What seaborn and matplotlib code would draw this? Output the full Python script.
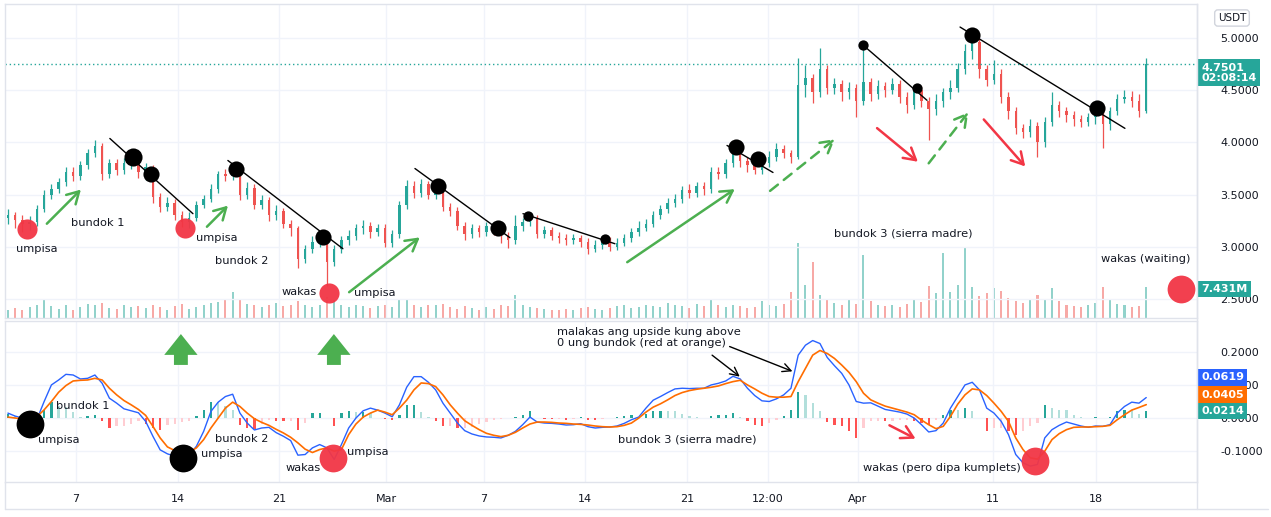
import numpy as np
import pandas as pd
import matplotlib
matplotlib.use("Agg")
import matplotlib.pyplot as plt
import matplotlib.transforms as mtransforms
from matplotlib.lines import Line2D
import seaborn as sns

# 12h candles (price in USDT)
close = [3.30, 3.26, 3.22, 3.24, 3.36, 3.50, 3.55, 3.62, 3.72, 3.68,
         3.78, 3.90, 3.97, 3.70, 3.80, 3.74, 3.80, 3.84, 3.72, 3.76,
         3.48, 3.38, 3.42, 3.30, 3.24, 3.28, 3.40, 3.46, 3.55, 3.70,
         3.68, 3.74, 3.50, 3.56, 3.40, 3.45, 3.30, 3.34, 3.22, 3.18,
         2.88, 2.98, 3.05, 3.10, 2.85, 2.98, 3.06, 3.10, 3.18, 3.20,
         3.14, 3.18, 3.04, 3.12, 3.40, 3.58, 3.52, 3.60, 3.50, 3.56,
         3.38, 3.34, 3.20, 3.12, 3.18, 3.14, 3.20, 3.16, 3.10, 3.06,
         3.20, 3.24, 3.28, 3.12, 3.16, 3.10, 3.08, 3.06, 3.08, 3.05,
         2.98, 3.02, 3.06, 3.00, 3.04, 3.08, 3.14, 3.18, 3.22, 3.30,
         3.36, 3.42, 3.46, 3.54, 3.52, 3.58, 3.55, 3.72, 3.70, 3.80,
         3.92, 3.82, 3.78, 3.74, 3.80, 3.86, 3.94, 3.90, 3.86, 4.55,
         4.62, 4.48, 4.70, 4.52, 4.56, 4.48, 4.52, 4.40, 4.58, 4.46,
         4.54, 4.50, 4.56, 4.44, 4.36, 4.50, 4.40, 4.32, 4.40, 4.48,
         4.52, 4.70, 4.88, 4.96, 4.70, 4.60, 4.66, 4.44, 4.30, 4.14,
         4.10, 4.16, 4.00, 4.20, 4.36, 4.30, 4.26, 4.22, 4.20, 4.24,
         4.32, 4.18, 4.30, 4.42, 4.44, 4.40, 4.30, 4.7501]
high = [3.36, 3.33, 3.30, 3.29, 3.40, 3.54, 3.60, 3.66, 3.76, 3.76,
        3.82, 3.94, 4.02, 3.99, 3.84, 3.84, 3.85, 3.88, 3.88, 3.80,
        3.78, 3.52, 3.48, 3.46, 3.34, 3.33, 3.44, 3.50, 3.60, 3.73,
        3.75, 3.80, 3.77, 3.62, 3.60, 3.50, 3.48, 3.40, 3.37, 3.26,
        3.20, 3.02, 3.10, 3.14, 3.14, 3.02, 3.10, 3.16, 3.22, 3.26,
        3.24, 3.22, 3.22, 3.16, 3.44, 3.64, 3.63, 3.65, 3.63, 3.62,
        3.58, 3.42, 3.38, 3.24, 3.22, 3.21, 3.24, 3.23, 3.19, 3.14,
        3.30, 3.28, 3.32, 3.30, 3.20, 3.19, 3.14, 3.12, 3.12, 3.11,
        3.08, 3.06, 3.10, 3.09, 3.08, 3.12, 3.18, 3.25, 3.27, 3.34,
        3.40, 3.47, 3.51, 3.58, 3.60, 3.62, 3.62, 3.76, 3.76, 3.84,
        3.96, 3.95, 3.86, 3.82, 3.84, 3.92, 3.99, 3.98, 3.93, 4.81,
        4.74, 4.66, 4.91, 4.74, 4.62, 4.60, 4.58, 4.56, 4.93, 4.62,
        4.60, 4.58, 4.62, 4.60, 4.48, 4.55, 4.54, 4.44, 4.46, 4.52,
        4.60, 4.76, 4.94, 5.05, 5.00, 4.74, 4.79, 4.70, 4.48, 4.34,
        4.18, 4.22, 4.20, 4.24, 4.48, 4.40, 4.34, 4.30, 4.26, 4.28,
        4.36, 4.36, 4.34, 4.46, 4.50, 4.49, 4.46, 4.81]
low = [3.22, 3.18, 3.14, 3.16, 3.20, 3.33, 3.46, 3.52, 3.58, 3.63,
       3.64, 3.75, 3.86, 3.64, 3.66, 3.69, 3.70, 3.75, 3.66, 3.64,
       3.42, 3.33, 3.34, 3.26, 3.19, 3.18, 3.25, 3.37, 3.43, 3.52,
       3.63, 3.64, 3.45, 3.46, 3.36, 3.36, 3.25, 3.26, 3.18, 3.10,
       2.80, 2.84, 2.94, 3.00, 2.62, 2.82, 2.94, 3.02, 3.06, 3.12,
       3.08, 3.10, 3.00, 3.00, 3.08, 3.36, 3.47, 3.48, 3.46, 3.46,
       3.34, 3.29, 3.16, 3.06, 3.08, 3.09, 3.10, 3.11, 3.04, 2.99,
       3.03, 3.15, 3.20, 3.08, 3.08, 3.06, 3.04, 3.02, 3.03, 3.00,
       2.93, 2.95, 2.98, 2.96, 2.97, 3.01, 3.05, 3.10, 3.15, 3.19,
       3.27, 3.32, 3.38, 3.42, 3.47, 3.48, 3.50, 3.52, 3.65, 3.66,
       3.76, 3.76, 3.72, 3.70, 3.70, 3.76, 3.82, 3.85, 3.80, 3.84,
       4.44, 4.38, 4.44, 4.46, 4.46, 4.40, 4.42, 4.24, 4.36, 4.40,
       4.42, 4.44, 4.46, 4.38, 4.28, 4.32, 4.34, 4.02, 4.26, 4.34,
       4.42, 4.48, 4.66, 4.80, 4.62, 4.54, 4.56, 4.38, 4.22, 4.08,
       4.04, 4.05, 3.86, 3.96, 4.16, 4.24, 4.20, 4.16, 4.15, 4.16,
       4.18, 3.95, 4.12, 4.26, 4.38, 4.34, 4.24, 4.28]
first_open = 3.28
# volume in millions
volume = [2.0, 2.4, 1.8, 2.6, 3.0, 4.3, 2.8, 2.2, 3.2, 2.0,
          2.6, 3.4, 3.0, 3.6, 2.4, 2.2, 3.0, 2.6, 2.8, 2.4,
          3.2, 2.6, 2.0, 2.8, 3.4, 2.2, 2.6, 3.0, 3.6, 3.8,
          4.2, 6.2, 4.6, 3.4, 3.0, 2.6, 3.2, 3.6, 2.8, 3.0,
          4.0, 3.2, 2.6, 3.0, 5.0, 4.4, 3.2, 2.6, 3.0, 2.8,
          2.4, 2.8, 3.0, 2.6, 4.6, 4.2, 3.0, 2.6, 3.2, 3.0,
          3.4, 2.6, 2.2, 2.8, 2.4, 2.0, 2.6, 2.2, 3.0, 2.8,
          5.5, 3.0, 2.6, 2.4, 2.2, 2.0, 1.8, 2.2, 2.0, 2.4,
          2.6, 2.2, 2.0, 2.4, 2.8, 3.0, 2.4, 2.6, 3.2, 2.8,
          2.6, 3.6, 3.0, 2.8, 2.4, 3.4, 2.8, 4.3, 3.0, 2.6,
          3.2, 2.8, 2.4, 2.6, 4.0, 3.0, 2.8, 3.4, 6.2, 18.0,
          8.0, 13.4, 5.6, 4.4, 3.6, 3.0, 4.2, 3.4, 15.0, 4.0,
          3.0, 2.8, 3.2, 2.6, 3.4, 4.6, 3.8, 7.6, 6.0, 15.6,
          6.2, 8.0, 17.0, 7.4, 5.2, 6.0, 7.2, 6.4, 4.8, 4.0,
          3.6, 4.2, 5.6, 4.4, 7.2, 4.0, 3.2, 2.8, 2.6, 3.0,
          3.6, 7.4, 4.2, 3.4, 3.0, 2.6, 2.8, 7.431]
macd = [0.015, 0.006, 0.0, -0.004, -0.004, 0.05, 0.1, 0.115, 0.132, 0.13,
        0.118, 0.12, 0.13, 0.105, 0.06, 0.045, 0.028, 0.022, 0.016, -0.01,
        -0.055, -0.096, -0.108, -0.115, -0.117, -0.112, -0.085, -0.04, 0.02, 0.048,
        0.065, 0.072, 0.015, -0.015, -0.036, -0.03, -0.028, -0.044, -0.055, -0.068,
        -0.112, -0.11, -0.09, -0.08, -0.09, -0.125, -0.08, -0.03, 0.0, 0.022,
        0.03, 0.024, 0.015, 0.004, 0.04, 0.093, 0.125, 0.125, 0.108, 0.085,
        0.045, 0.015, -0.015, -0.038, -0.048, -0.054, -0.057, -0.058, -0.06, -0.052,
        -0.04, -0.02, 0.003, -0.012, -0.015, -0.016, -0.018, -0.021, -0.02, -0.017,
        -0.026, -0.03, -0.028, -0.027, -0.024, -0.016, -0.005, 0.003, 0.03, 0.054,
        0.065, 0.077, 0.088, 0.09, 0.089, 0.09, 0.09, 0.1, 0.105, 0.112,
        0.126, 0.118, 0.09, 0.068, 0.052, 0.05, 0.058, 0.07, 0.09, 0.19,
        0.22, 0.234, 0.225, 0.183, 0.158, 0.135, 0.1, 0.05, 0.045, 0.046,
        0.036, 0.026, 0.022, 0.018, 0.012, 0.0, -0.02, -0.042, -0.038, -0.015,
        0.03, 0.065, 0.1, 0.108, 0.085, 0.03, 0.015, -0.01, -0.05, -0.11,
        -0.135, -0.145, -0.14, -0.06, -0.035, -0.022, -0.012, -0.018, -0.024, -0.028,
        -0.024, -0.025, -0.02, 0.015, 0.035, 0.048, 0.045, 0.0619]
signal = [0.003, 0.0, -0.002, -0.003, 0.004, 0.025, 0.05, 0.078, 0.098, 0.112,
          0.114, 0.115, 0.12, 0.115, 0.09, 0.07, 0.053, 0.04, 0.026, 0.008,
          -0.025, -0.06, -0.087, -0.098, -0.105, -0.103, -0.09, -0.065, -0.03, 0.0,
          0.03, 0.048, 0.035, 0.015, -0.002, -0.013, -0.022, -0.034, -0.045, -0.058,
          -0.075, -0.094, -0.104, -0.095, -0.09, -0.1, -0.095, -0.05, -0.018, 0.003,
          0.015, 0.024, 0.018, 0.01, 0.03, 0.054, 0.085, 0.106, 0.104, 0.095,
          0.07, 0.04, 0.015, -0.008, -0.022, -0.035, -0.046, -0.052, -0.056, -0.052,
          -0.043, -0.03, -0.018, -0.012, -0.012, -0.013, -0.015, -0.016, -0.018, -0.019,
          -0.021, -0.024, -0.026, -0.027, -0.026, -0.022, -0.015, 0.0, 0.018, 0.033,
          0.043, 0.055, 0.068, 0.077, 0.083, 0.087, 0.09, 0.093, 0.097, 0.104,
          0.11, 0.114, 0.1, 0.088, 0.075, 0.065, 0.063, 0.063, 0.065, 0.11,
          0.15, 0.19, 0.204, 0.195, 0.18, 0.16, 0.138, 0.11, 0.075, 0.055,
          0.045, 0.036, 0.03, 0.024, 0.018, 0.01, -0.006, -0.02, -0.032, -0.025,
          0.005, 0.042, 0.07, 0.088, 0.085, 0.068, 0.045, 0.02, -0.01, -0.06,
          -0.095, -0.12, -0.124, -0.1, -0.065, -0.047, -0.035, -0.028, -0.027, -0.027,
          -0.026, -0.025, -0.022, -0.005, 0.01, 0.024, 0.032, 0.0405]

tick_days = [4.69, 11.72, 18.69, 26.07, 32.83, 39.79, 46.83, 52.41, 58.62, 67.93, 75.03]
tick_labels = ["7", "14", "21", "Mar", "7", "14", "21", "12:00", "Apr", "11", "18"]
price_ticks = [2.5, 3.0, 3.5, 4.0, 4.5, 5.0]
macd_ticks = [0.2, 0.1, 0.0, -0.1]

# drawings on the price pane: (day, price)
red_dots = [(1.31, 3.173, 210), (12.2, 3.183, 210), (22.14, 2.558, 210), (80.9, 2.596, 400)]
black_dots = [(8.62, 3.856, 170), (9.86, 3.702, 135), (15.72, 3.75, 135), (21.72, 3.096, 135),
              (29.66, 3.587, 135), (33.79, 3.183, 135), (35.86, 3.298, 55), (41.17, 3.077, 55),
              (50.21, 3.952, 135), (51.72, 3.837, 135), (58.97, 4.933, 55), (62.69, 4.519, 55),
              (66.48, 5.029, 135), (75.1, 4.327, 135)]
trend_lines = [((7.03, 4.038), (12.76, 3.317)), ((15.17, 3.827), (23.1, 2.981)),
               ((28.07, 3.75), (34.62, 3.087)), ((35.52, 3.317), (41.86, 3.029)),
               ((49.59, 3.971), (52.76, 3.712)), ((58.97, 4.933), (63.38, 4.404)),
               ((65.66, 5.106), (77.03, 4.135))]
green_arrows = [((2.55, 3.202), (5.17, 3.567)), ((13.59, 3.173), (15.31, 3.413)),
                ((23.38, 2.548), (28.55, 3.106)), ((42.55, 2.837), (50.28, 3.567))]
green_dashed = [((52.41, 3.519), (57.17, 4.048)), ((63.38, 3.779), (66.34, 4.308))]
red_arrows = [((59.79, 4.154), (62.9, 3.798)), ((67.17, 4.24), (70.28, 3.75))]
price_notes = [(2.0, 2.981, "umpisa"), (6.21, 3.231, "bundok 1"), (14.41, 3.087, "umpisa"),
               (16.14, 2.865, "bundok 2"), (20.07, 2.567, "wakas"), (25.31, 2.558, "umpisa"),
               (61.72, 3.125, "bundok 3 (sierra madre)"), (78.48, 2.885, "wakas (waiting)")]
# drawings on the MACD pane: (day, value)
macd_black_dots = [(1.52, -0.018), (12.07, -0.12)]
macd_red_dots = [(22.41, -0.12), (70.83, -0.129)]
up_arrows = [11.93, 22.48]
macd_notes = [(5.17, 0.036, "bundok 1"), (3.52, -0.066, "umpisa"), (14.76, -0.108, "umpisa"),
              (16.14, -0.063, "bundok 2"), (20.34, -0.15, "wakas"), (24.83, -0.102, "umpisa"),
              (46.83, -0.066, "bundok 3 (sierra madre)"), (64.41, -0.15, "wakas (pero dipa kumplets)")]

UP, DOWN = "#26a69a", "#ef5350"
GRID = "#f0f3fa"
EDGE = "#e0e3eb"
TXT = "#131722"

sns.set_theme(style="white")
plt.rcParams["font.family"] = ["DejaVu Sans"]

days = np.arange(len(close)) * 0.5
opens = [first_open] + close[:-1]
df = pd.DataFrame({"day": days, "open": opens, "close": close, "high": high, "low": low,
                   "volume": volume, "macd": macd, "signal": signal})
df["hist"] = df["macd"] - df["signal"]
df["up"] = df["close"] >= df["open"]

fig = plt.figure(figsize=(12.71, 5.17), dpi=100)
W, H = 1271, 517
ax = fig.add_axes([5 / W, 1 - 318 / H, 1192 / W, 314 / H])
axm = fig.add_axes([5 / W, 1 - 482 / H, 1192 / W, 161 / H], sharex=ax)
axv = ax.twinx()

# volume
vcol = [(0.15, 0.65, 0.6, 0.5) if u else (0.94, 0.33, 0.31, 0.5) for u in df["up"]]
axv.bar(df["day"], df["volume"], width=0.14, color=vcol, linewidth=0)
axv.set_ylim(0, 75)
axv.set_yticks([])
for s in axv.spines.values():
    s.set_visible(False)
ax.set_zorder(axv.get_zorder() + 1)
ax.patch.set_visible(False)

# candles
ccol = [UP if u else DOWN for u in df["up"]]
ax.vlines(df["day"], df["low"], df["high"], colors=ccol, linewidth=0.9)
body_lo = np.minimum(df["open"], df["close"])
body_h = np.maximum(np.abs(df["close"] - df["open"]), 0.006)
ax.bar(df["day"], body_h, bottom=body_lo, width=0.17, color=ccol, linewidth=0)
ax.axhline(close[-1], color=UP, lw=1, ls=(0, (1, 2)))

ax.set_xlim(-0.2, 82.0)
ax.set_ylim(2.317, 5.327)
ax.yaxis.tick_right()
ax.set_yticks(price_ticks)
ax.set_yticklabels([f"{v:.4f}" for v in price_ticks])
ax.tick_params(axis="y", length=0, pad=17, labelsize=8, labelcolor=TXT)
ax.tick_params(axis="x", length=0, labelbottom=False)
ax.grid(True, color=GRID, lw=1)

for x, y, s in red_dots:
    ax.scatter(x, y, s=s, color="#f23645", alpha=0.95, linewidth=0, zorder=6)
for x, y, s in black_dots:
    ax.scatter(x, y, s=s, color="black", linewidth=0, zorder=6)
for (x0, y0), (x1, y1) in trend_lines:
    ax.plot([x0, x1], [y0, y1], color="black", lw=1, zorder=5)
for tail, head in green_arrows:
    ax.annotate("", xy=head, xytext=tail, zorder=7,
                arrowprops=dict(arrowstyle="->,head_length=0.7,head_width=0.4", color="#4caf50", lw=1.8))
for tail, head in green_dashed:
    ax.annotate("", xy=head, xytext=tail, zorder=7,
                arrowprops=dict(arrowstyle="->,head_length=0.7,head_width=0.4", color="#4caf50", lw=1.8,
                                linestyle=(0, (4, 3))))
for tail, head in red_arrows:
    ax.annotate("", xy=head, xytext=tail, zorder=7,
                arrowprops=dict(arrowstyle="->,head_length=0.7,head_width=0.4", color="#f23645", lw=1.8))
for x, y, t in price_notes:
    ax.text(x, y, t, fontsize=8.2, color=TXT, ha="center", va="center", zorder=8)

# MACD pane
hcol = []
prev = 0.0
for h in df["hist"]:
    if h >= 0:
        hcol.append("#26a69a" if h > prev else "#b2dfdb")
    else:
        hcol.append("#ff5252" if h < prev else "#ffcdd2")
    prev = h
axm.bar(df["day"], df["hist"], width=0.16, color=hcol, linewidth=0)
sns.lineplot(data=df, x="day", y="macd", ax=axm, color="#2962ff", lw=1)
sns.lineplot(data=df, x="day", y="signal", ax=axm, color="#ff6d00", lw=1.2)
axm.set_ylim(-0.193, 0.293)
axm.set_xlabel("")
axm.set_ylabel("")
axm.yaxis.tick_right()
axm.set_yticks(macd_ticks)
axm.set_yticklabels([f"{v:.4f}" for v in macd_ticks])
axm.tick_params(axis="y", length=0, pad=17, labelsize=8, labelcolor=TXT)
axm.set_xticks(tick_days)
axm.set_xticklabels(tick_labels)
axm.tick_params(axis="x", length=0, pad=9, labelsize=8, labelcolor=TXT)
axm.grid(True, color=GRID, lw=1)

for x, y in macd_black_dots:
    axm.scatter(x, y, s=400, color="black", linewidth=0, zorder=6)
for x, y in macd_red_dots:
    axm.scatter(x, y, s=400, color="#f23645", alpha=0.95, linewidth=0, zorder=6)
for x in up_arrows:
    axm.annotate("", xy=(x, 0.262), xytext=(x, 0.152), zorder=7,
                 arrowprops=dict(arrowstyle="simple,head_length=0.75,head_width=1.2,tail_width=0.5",
                                 color="#4caf50", mutation_scale=20, lw=0))
for x, y, t in macd_notes:
    axm.text(x, y, t, fontsize=8.2, color=TXT, ha="center", va="center", zorder=8)
axm.text(37.86, 0.276, "malakas ang upside kung above\n0 ung bundok (red at orange)",
         fontsize=8.2, color=TXT, ha="left", va="top", linespacing=1.15, zorder=8)
axm.annotate("", xy=(50.62, 0.12), xytext=(48.41, 0.195),
             arrowprops=dict(arrowstyle="->,head_length=0.5,head_width=0.25", color="black", lw=1))
axm.annotate("", xy=(54.28, 0.138), xytext=(49.59, 0.219),
             arrowprops=dict(arrowstyle="->,head_length=0.5,head_width=0.25", color="black", lw=1))
axm.annotate("", xy=(62.76, -0.066), xytext=(60.62, -0.018), zorder=7,
             arrowprops=dict(arrowstyle="->,head_length=0.7,head_width=0.4", color="#f23645", lw=1.8))

for a in (ax, axm):
    for s in a.spines.values():
        s.set_color(EDGE)
        s.set_linewidth(1)

# value tags on the right scale
def tag(a, y, text, color):
    tr = mtransforms.blended_transform_factory(a.transAxes, a.transData)
    a.text(1.0 + 4 / 1192, y, text, transform=tr, ha="left", va="center", color="white",
           fontsize=8, fontweight="bold", linespacing=1.0, zorder=10, clip_on=False,
           bbox=dict(boxstyle="square,pad=0.3", fc=color, ec="none"))

tag(ax, 4.668, "4.7501\n02:08:14", UP)
tag(ax, 2.596, "7.431M", UP)
tag(axm, 0.123, f"{macd[-1]:.4f}", "#2962ff")
tag(axm, 0.0706, f"{signal[-1]:.4f}", "#ff6d00")
tag(axm, 0.021, f"{macd[-1] - signal[-1]:.4f}", UP)

fig.text(1232 / W, 1 - 18 / H, "USDT", fontsize=7.5, color=TXT, ha="center", va="center",
         bbox=dict(boxstyle="round,pad=0.3", fc="white", ec="#d1d4dc"))
fig.add_artist(Line2D([1197 / W, 1197 / W], [1 - 509 / H, 1 - 4 / H], color=EDGE, lw=1))
fig.add_artist(Line2D([5 / W, 1268 / W], [1 - 509 / H, 1 - 509 / H], color=EDGE, lw=1))
fig.add_artist(Line2D([5 / W, 5 / W], [1 - 509 / H, 1 - 482 / H], color=EDGE, lw=1))

fig.savefig("out.png", dpi=100)
